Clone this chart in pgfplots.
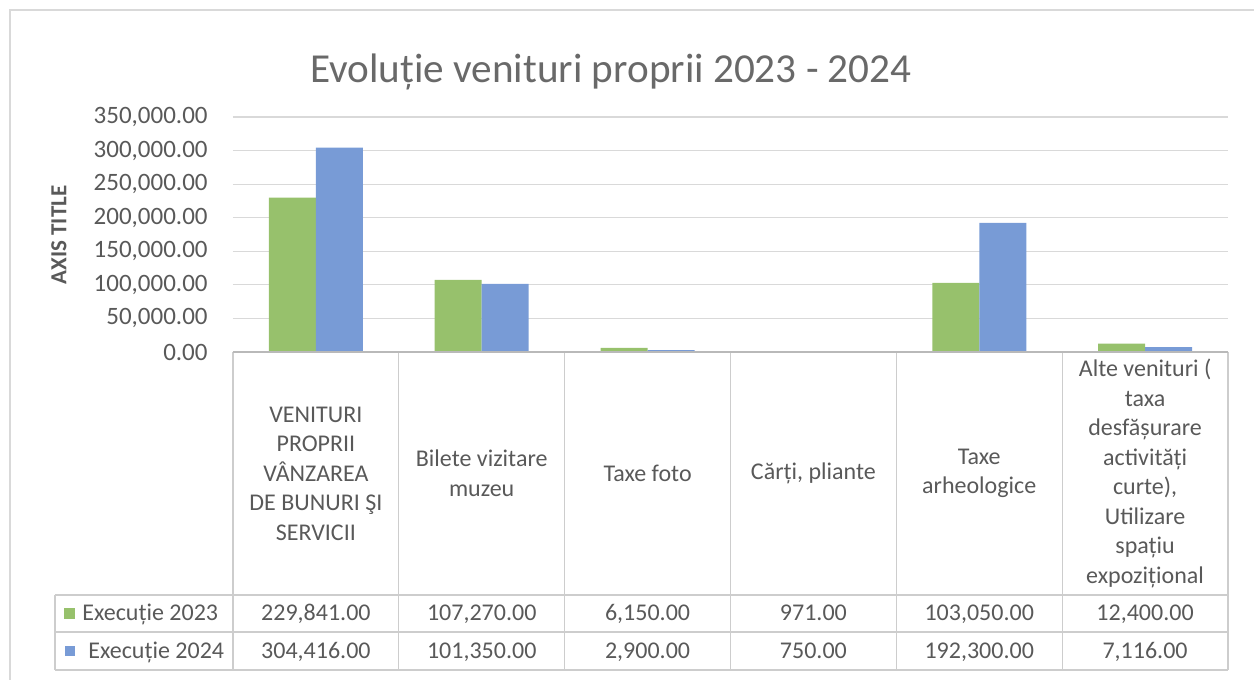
\documentclass[border=0pt]{standalone}
\usepackage{pgfplots}
\pgfplotsset{compat=1.18}
\usepackage{pgfplotstable}
\usepackage{fontspec}
\setmainfont{Carlito}

\definecolor{verde}{RGB}{151,193,108}
\definecolor{albastru}{RGB}{120,155,214}
\definecolor{txt}{RGB}{89,89,89}
\definecolor{titlu}{RGB}{105,105,105}
\definecolor{grila}{RGB}{217,217,217}
\definecolor{linie}{RGB}{205,205,205}

% executie 2023 (a) si 2024 (b), pe categorii
\pgfplotstableread{
x a b
0 229841 304416
1 107270 101350
2 6150 2900
3 971 750
4 103050 192300
5 12400 7116
}\venituri

\begin{document}
\begin{tikzpicture}
% 1 px din imagine = 0.5pt, originea in coltul axei (233,352)
\useasboundingbox (-116.5pt,-164pt) rectangle (510.5pt,176pt);
\begin{axis}[
    at={(0pt,0pt)}, anchor=south west,
    scale only axis, width=497.5pt, height=117.5pt,
    xmin=-0.5, xmax=5.5, ymin=0, ymax=350000,
    ybar=0pt, bar width=23.5pt,
    axis line style={draw=none},
    xtick=\empty,
    ytick={0,50000,...,350000},
    ymajorgrids, grid style={color=grila, line width=0.6pt},
    tick style={draw=none}, major tick length=0pt,
    scaled y ticks=false,
    yticklabel style={anchor=east, inner sep=0pt, xshift=-12.5pt,
        font=\fontsize{12.5}{14}\selectfont, text=txt,
        /pgf/number format/.cd, fixed, fixed zerofill, precision=2,
        1000 sep={,}, assume math mode=true},
]
\addplot[fill=verde, draw=none] table[x=x, y=a] {\venituri};
\addplot[fill=albastru, draw=none] table[x=x, y=b] {\venituri};
\end{axis}

\begin{scope}[x=0.5pt, y=-0.5pt, shift={(-116.5pt,176pt)}]
% cadru
\draw[grila, line width=1pt] (10,680) -- (10,10) -- (1254,10);
% titluri
\node[anchor=base, font=\fontsize{20.6}{24}\selectfont, text=titlu] at (611,83)
    {Evoluție venituri proprii 2023 - 2024};
\node[rotate=90, font=\fontsize{11.5}{14}\selectfont\bfseries, text=txt] at (59,235)
    {AXIS TITLE};
% tabel de date
\draw[linie, line width=0.6pt] (55,595) -- (1228,595)
    (55,632) -- (1228,632) (55,670) -- (1228,670) (55,595) -- (55,670);
\foreach \k in {0,...,6} {
    \draw[linie, line width=0.6pt] ({233+165.833*\k},352) -- ({233+165.833*\k},670);
}
\draw[linie!90!black, line width=1pt] (233,352) -- (1228,352);
\begin{scope}[every node/.style={align=center, text=txt,
        font=\fontsize{12}{14.75}\selectfont}]
\node at (315.9,473.5) {VENITURI\\PROPRII\\VÂNZAREA\\DE BUNURI ŞI\\SERVICII};
\node at (481.7,473.5) {Bilete vizitare\\muzeu};
\node at (647.6,473.5) {Taxe foto};
\node at (813.4,473.5) {Cărți, pliante};
\node at (979.2,473.5) {Taxe\\arheologice};
\node at (1145.1,473.5) {Alte venituri (\\taxa\\desfășurare\\activități\\curte),\\Utilizare\\spațiu\\expozițional};
\foreach \i in {0,...,5} {
    \pgfmathsetmacro\cx{233+165.833*(\i+0.5)}
    \pgfplotstablegetelem{\i}{a}\of\venituri
    \let\va\pgfplotsretval
    \pgfplotstablegetelem{\i}{b}\of\venituri
    \let\vb\pgfplotsretval
    \node[anchor=base] at (\cx,621) {\pgfmathprintnumber[fixed, fixed zerofill, precision=2,
        1000 sep={,}, assume math mode=true]{\va}};
    \node[anchor=base] at (\cx,658.5) {\pgfmathprintnumber[fixed, fixed zerofill, precision=2,
        1000 sep={,}, assume math mode=true]{\vb}};
}
\node[anchor=base west, inner sep=0pt] at (82,621) {Execuție 2023};
\node[anchor=base west, inner sep=0pt] at (88,658.5) {Execuție 2024};
\end{scope}
\fill[verde] (64,608) rectangle (75,619);
\fill[albastru] (65,646) rectangle (75,656);
\end{scope}
\end{tikzpicture}
\end{document}
